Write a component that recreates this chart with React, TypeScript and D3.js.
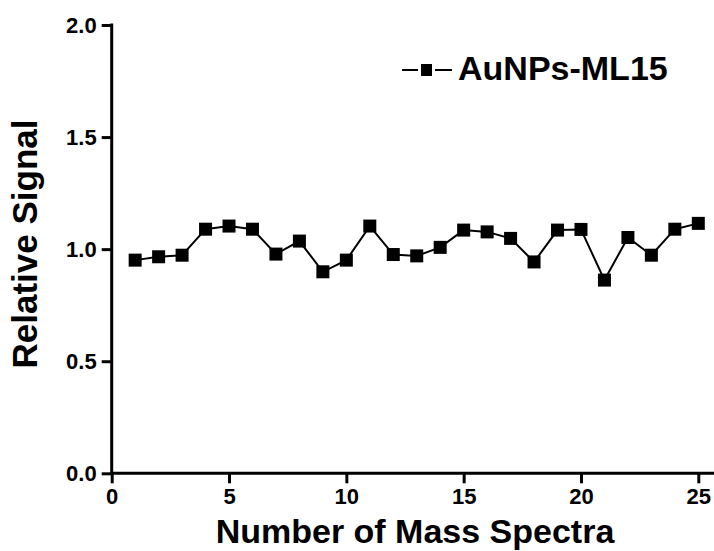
import React, { useEffect, useRef } from 'react';
import * as d3 from 'd3';

const spectra = [1, 2, 3, 4, 5, 6, 7, 8, 9, 10, 11, 12, 13, 14, 15, 16, 17, 18, 19, 20, 21, 22, 23, 24, 25];
const signal = [0.951, 0.966, 0.973, 1.089, 1.103, 1.089, 0.978, 1.036, 0.899, 0.951, 1.103, 0.976, 0.97,
  1.008, 1.085, 1.077, 1.048, 0.943, 1.085, 1.088, 0.862, 1.052, 0.973, 1.089, 1.115];
const xTicks = [0, 5, 10, 15, 20, 25];
const yTicks = [0, 0.5, 1.0, 1.5, 2.0];
const seriesName = 'AuNPs-ML15';

const W = 714;
const H = 551;
const FONT = '"Liberation Sans", Arial, sans-serif';

const App = () => {
  const svgRef = useRef<SVGSVGElement>(null);

  useEffect(() => {
    const svg = d3.select(svgRef.current);
    svg.selectAll('*').remove();

    const x = d3.scaleLinear().domain([0, 25]).range([111.7, 698.3]);
    const y = d3.scaleLinear().domain([0, 2]).range([473.3, 25]);

    // axes
    const gx = svg.append('g').attr('transform', `translate(0,${y(0)})`)
      .call(d3.axisBottom(x).tickValues(xTicks).tickSize(10).tickPadding(5).tickFormat(d3.format('d')));
    gx.select('.domain').remove();
    gx.selectAll('line').attr('stroke', '#000').attr('stroke-width', 3);
    gx.selectAll('text').attr('font-family', FONT).attr('font-weight', 'bold').attr('font-size', 22).attr('fill', '#000');

    const gy = svg.append('g').attr('transform', `translate(${x(0)},0)`)
      .call(d3.axisLeft(y).tickValues(yTicks).tickSize(10).tickPadding(5).tickFormat(d3.format('.1f')));
    gy.select('.domain').remove();
    gy.selectAll('line').attr('stroke', '#000').attr('stroke-width', 3);
    gy.selectAll('text').attr('font-family', FONT).attr('font-weight', 'bold').attr('font-size', 22).attr('fill', '#000');

    svg.append('line')
      .attr('x1', x(0) - 1.5).attr('x2', W)
      .attr('y1', y(0)).attr('y2', y(0))
      .attr('stroke', '#000').attr('stroke-width', 3);
    svg.append('line')
      .attr('x1', x(0)).attr('x2', x(0))
      .attr('y1', y(2) - 1.5).attr('y2', y(0))
      .attr('stroke', '#000').attr('stroke-width', 3);

    // series
    const line = d3.line<number>().x((d, i) => x(spectra[i])).y(d => y(d));
    svg.append('path')
      .datum(signal)
      .attr('d', line)
      .attr('fill', 'none')
      .attr('stroke', '#000')
      .attr('stroke-width', 2);

    const ms = 13;
    svg.append('g')
      .selectAll('rect')
      .data(signal)
      .enter()
      .append('rect')
      .attr('x', (d, i) => x(spectra[i]) - ms / 2)
      .attr('y', d => y(d) - ms / 2)
      .attr('width', ms)
      .attr('height', ms)
      .attr('fill', '#000');

    // titles
    svg.append('text')
      .attr('x', 415).attr('y', 543)
      .attr('text-anchor', 'middle')
      .attr('font-family', FONT).attr('font-weight', 'bold').attr('font-size', 34)
      .text('Number of Mass Spectra');

    svg.append('text')
      .attr('transform', 'translate(37,244) rotate(-90)')
      .attr('text-anchor', 'middle')
      .attr('font-family', FONT).attr('font-weight', 'bold').attr('font-size', 35)
      .text('Relative Signal');

    // legend
    const leg = svg.append('g').attr('transform', 'translate(0,70)');
    leg.append('line').attr('x1', 402).attr('x2', 418).attr('y1', 0).attr('y2', 0)
      .attr('stroke', '#000').attr('stroke-width', 2);
    leg.append('line').attr('x1', 435).attr('x2', 452).attr('y1', 0).attr('y2', 0)
      .attr('stroke', '#000').attr('stroke-width', 2);
    leg.append('rect').attr('x', 421).attr('y', -6).attr('width', 11).attr('height', 12).attr('fill', '#000');
    leg.append('text')
      .attr('x', 458).attr('y', 10)
      .attr('font-family', FONT).attr('font-weight', 'bold').attr('font-size', 34)
      .text(seriesName);
  }, []);

  return (
    <div style={{ position: 'absolute', left: 0, top: 0 }}>
      <svg ref={svgRef} width={W} height={H} style={{ display: 'block', background: '#fff' }}></svg>
    </div>
  );
};

export default App;
